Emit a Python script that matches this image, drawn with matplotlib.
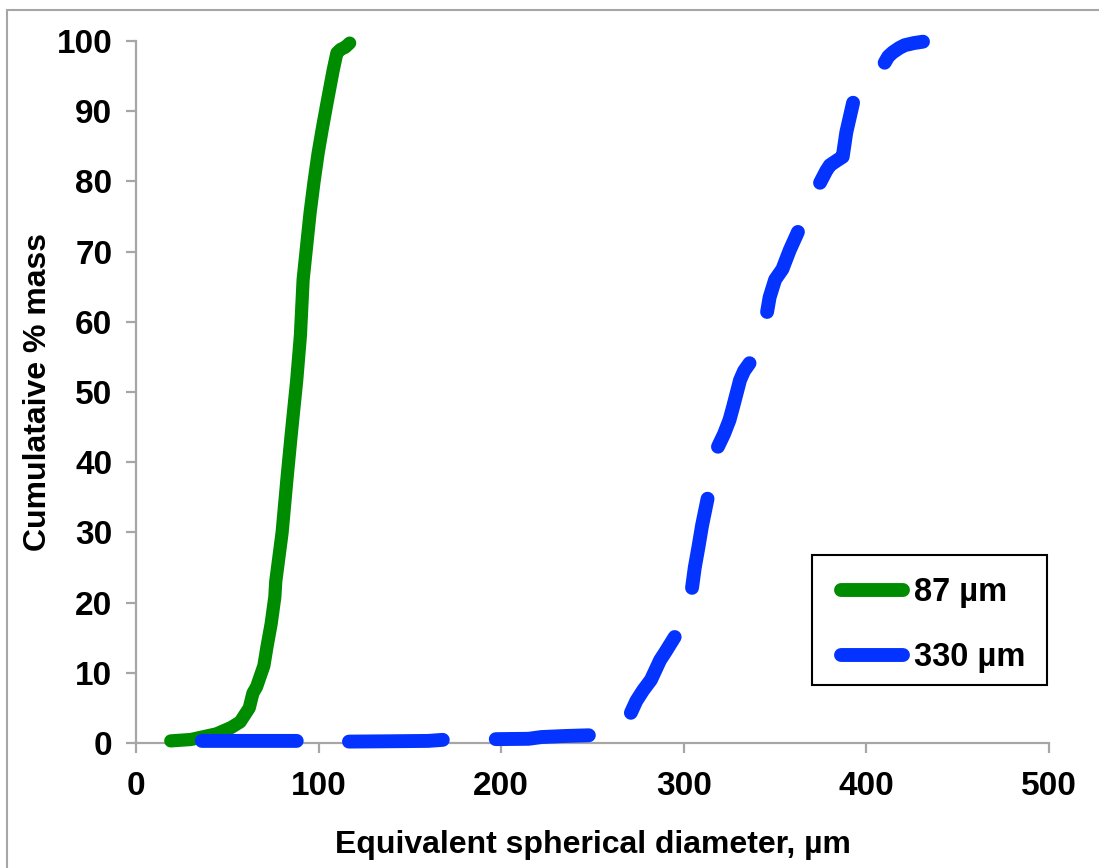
import numpy as np
import matplotlib
matplotlib.use("Agg")
import matplotlib.pyplot as plt
from matplotlib.patches import Rectangle

plt.rcParams['font.family'] = ['Liberation Sans', 'DejaVu Sans']
plt.rcParams['font.weight'] = 'bold'

# 87 um sample: cumulative % mass vs equivalent spherical diameter
green_x = [19, 30, 44, 52, 57, 62, 64, 66, 70, 71.7, 74, 76, 76.5, 80, 82.6,
           85, 88, 90, 91.5, 93.5, 95.3, 97.5, 99.7, 102, 104.6, 108, 110,
           112, 114.5, 117]
green_y = [0.3, 0.5, 1.3, 2.2, 3.0, 5.0, 7.1, 8.0, 11.0, 13.7, 17.0, 20.8,
           23.0, 30.0, 37.5, 44.0, 51.7, 58.0, 66.0, 71.0, 75.5, 80.0, 84.0,
           87.5, 91.2, 95.9, 98.3, 98.8, 99.1, 99.7]

# 330 um sample: measured in pieces, nan marks the gaps between them
blue_x = [36, 60, 88, np.nan,
          116.6, 140, 160, 168, np.nan,
          197, 215, 222, 235, 248, np.nan,
          271, 274, 277.7, 282, 287, 290, 295, np.nan,
          304.5, 306, 308, 310, 313, np.nan,
          318.7, 322, 325, 327, 330.8, 333, 336, np.nan,
          345.6, 347, 350, 354, 358, 362.5, np.nan,
          374.6, 378, 380, 384, 387, 389, 392.7, np.nan,
          410, 412, 414.6, 418, 421, 426, 431]
blue_y = [0.3, 0.3, 0.3, np.nan,
          0.2, 0.25, 0.3, 0.45, np.nan,
          0.55, 0.6, 0.85, 1.0, 1.1, np.nan,
          4.3, 6.0, 7.5, 9.0, 11.8, 13.0, 15.1, np.nan,
          22.1, 25.0, 27.9, 31.0, 34.8, np.nan,
          42.2, 44.0, 46.0, 47.9, 51.7, 53.0, 54.1, np.nan,
          61.4, 63.5, 66.0, 67.5, 70.2, 72.8, np.nan,
          79.8, 81.5, 82.3, 83.0, 83.5, 87.0, 91.2, np.nan,
          96.9, 97.8, 98.4, 99.0, 99.4, 99.7, 99.9]

labels = ['87 µm', '330 µm']
colors = ['#008C00', '#0433FF']

fig = plt.figure(figsize=(10.99, 8.68), dpi=100)
ax = fig.add_axes([0.1238, 0.144, 0.8307, 0.8088])

ax.plot(green_x, green_y, color=colors[0], lw=9.5, solid_capstyle='round',
        solid_joinstyle='round', label=labels[0], clip_on=False, zorder=3)
ax.plot(blue_x, blue_y, color=colors[1], lw=10, solid_capstyle='round',
        solid_joinstyle='round', label=labels[1], clip_on=False, zorder=4)

ax.set_xlim(0, 500)
ax.set_ylim(0, 100)
ax.set_xticks(range(0, 501, 100))
ax.set_yticks(range(0, 101, 10))
for s in ['top', 'right']:
    ax.spines[s].set_visible(False)
for s in ['left', 'bottom']:
    ax.spines[s].set_color('#a6a6a6')
    ax.spines[s].set_linewidth(1.6)
ax.tick_params(colors='#a6a6a6', width=1.6, length=7, labelcolor='black',
               labelsize=24, pad=8)
ax.tick_params(axis='x', pad=13)
ax.tick_params(axis='y', pad=10)

ax.set_xlabel('Equivalent spherical diameter, µm', fontsize=23,
              fontweight='bold', labelpad=20)
ax.set_ylabel('Cumulataive % mass', fontsize=23, fontweight='bold')
ax.yaxis.set_label_coords(-0.091, 0.5)

# legend box drawn separately so the inner padding can match
ax.add_patch(Rectangle((0.740, 0.0826), 0.258, 0.1854, transform=ax.transAxes,
                       fill=False, edgecolor='black', lw=1.5, zorder=5,
                       clip_on=False))
leg = ax.legend(loc='upper left', bbox_to_anchor=(0.772, 0.2365),
                borderaxespad=0, borderpad=0, fontsize=23.5, frameon=False,
                handlelength=1.9, handletextpad=0.33, labelspacing=1.05)
for h in leg.get_lines():
    h.set_linewidth(10)
    h.set_solid_capstyle('round')

# thin grey frame around the chart area, cut off at right and bottom
fig.patches.append(Rectangle((7 / 1099, -0.1), 1.2, 1.1 - 10 / 868,
                             transform=fig.transFigure, fill=False,
                             edgecolor='#a6a6a6', lw=1.5))

fig.savefig('out.png', dpi=100)
